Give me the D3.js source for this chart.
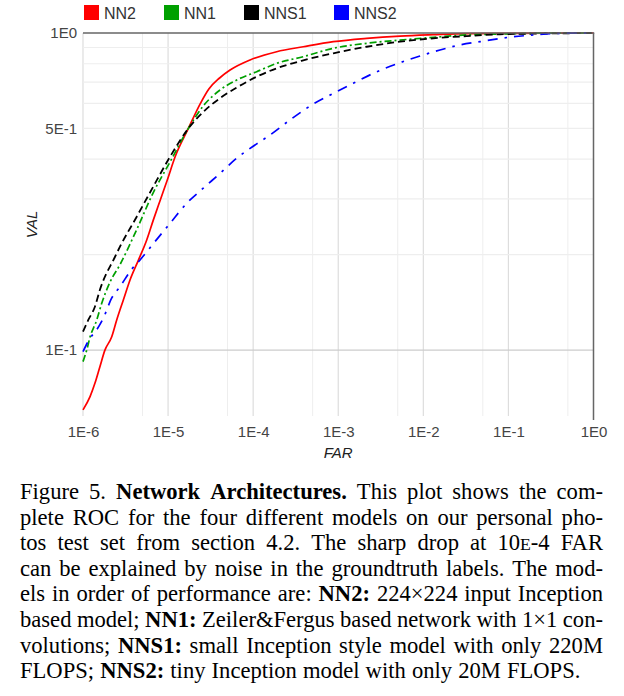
<!DOCTYPE html>
<html><head><meta charset="utf-8">
<script src="https://cdn.jsdelivr.net/npm/d3@7"></script>
<style>
body{margin:0;background:#fff;}
svg{position:absolute;left:0;top:0;}
</style></head><body>
<svg id="chart" width="624" height="696"></svg>
<script>
// ---------- data ----------
const seriesNames = ["NN2", "NN1", "NNS1", "NNS2"];
const xTickValues = [1e-6, 1e-5, 1e-4, 1e-3, 1e-2, 1e-1, 1];
const xTickLabels = ["1E-6", "1E-5", "1E-4", "1E-3", "1E-2", "1E-1", "1E0"];
const yTickValues = [0.1, 0.5, 1];
const yTickLabels = ["1E-1", "5E-1", "1E0"];

const nn2Far = [1e-6,1.21e-6,1.38e-6,1.58e-6,1.81e-6,2.17e-6,2.49e-6,2.98e-6,3.57e-6,4.47e-6,5.61e-6,6.7e-6,8.1e-6,9.79e-6,1.21e-5,1.73e-5,2.4e-5,3.0e-5,4.0e-5,5.35e-5,9.19e-5,1.89e-4,3.88e-4,8.75e-4,2.16e-3,5.32e-3,1.3e-2,3.24e-2,1];
const nn2Val = [0.0648,0.0714,0.0786,0.0887,0.100,0.110,0.1245,0.144,0.1665,0.192,0.2225,0.257,0.2975,0.344,0.407,0.50,0.600,0.665,0.720,0.764,0.822,0.873,0.905,0.939,0.962,0.978,0.988,0.996,1.0];

const nn1Far = [1e-6,1.105e-6,1.21e-6,1.45e-6,1.66e-6,2.08e-6,2.72e-6,4.28e-6,6.7e-6,1.054e-5,1.73e-5,2.59e-5,4.08e-5,6.41e-5,1.1e-4,1.89e-4,3.88e-4,8.75e-4,2.16e-3,5.32e-3,1.31e-2,3.24e-2,7.94e-2,0.195,1];
const nn1Val = [0.092,0.100,0.110,0.1245,0.1405,0.164,0.186,0.240,0.314,0.392,0.50,0.589,0.661,0.711,0.755,0.802,0.842,0.895,0.928,0.950,0.969,0.986,0.993,0.998,1.0];

const nns1Far = [1e-6,1.154e-6,1.38e-6,1.58e-6,2.38e-6,2.72e-6,4.28e-6,6.7e-6,1.054e-5,1.73e-5,2.59e-5,4.08e-5,6.41e-5,1.1e-4,1.89e-4,3.88e-4,8.75e-4,2.16e-3,5.32e-3,1.31e-2,3.24e-2,7.94e-2,0.195,1];
const nns1Val = [0.1144,0.1245,0.137,0.155,0.197,0.212,0.2635,0.328,0.407,0.50,0.564,0.623,0.673,0.728,0.774,0.820,0.863,0.905,0.939,0.962,0.978,0.991,0.995,1.0];

const nns2Far = [1e-6,1.21e-6,1.45e-6,1.73e-6,2.17e-6,2.72e-6,3.74e-6,4.68e-6,7.02e-6,1.054e-5,1.655e-5,2.59e-5,4.08e-5,6.41e-5,1.1e-4,1.58e-4,2.71e-4,4.88e-4,8.75e-4,1.5e-3,2.58e-3,5.32e-3,9.14e-3,1.57e-2,2.7e-2,4.64e-2,0.114,0.196,0.404,1];
const nns2Val = [0.099,0.109,0.116,0.126,0.1458,0.1585,0.180,0.1925,0.220,0.251,0.2905,0.324,0.361,0.403,0.447,0.477,0.532,0.593,0.645,0.694,0.746,0.806,0.846,0.884,0.917,0.939,0.973,0.9856,0.998,1.0];

const captionLines = [
  "Figure 5. **Network** **Architectures.** This plot shows the com-",
  "plete ROC for the four different models on our personal pho-",
  "tos test set from section 4.2. The sharp drop at 10^E^-4 FAR",
  "can be explained by noise in the groundtruth labels. The mod-",
  "els in order of performance are: **NN2:** 224×224 input Inception",
  "based model; **NN1:** Zeiler&Fergus based network with 1×1 con-",
  "volutions; **NNS1:** small Inception style model with only 220M",
  "FLOPS; **NNS2:** tiny Inception model with only 20M FLOPS."
];

// ---------- layout ----------
const L = 83, R = 593.5, T = 33, B = 416;
const svg = d3.select("#chart");
const x = d3.scaleLog().domain([1e-6, 1]).range([L, R]);
const y = d3.scaleLog().domain([0.062, 1]).range([B, T]);
const sans = "Arial, 'Liberation Sans', sans-serif";

const series = [
  {name: seriesNames[0], far: nn2Far, val: nn2Val, color: "#ff0000", dash: null, w: 1.7},
  {name: seriesNames[1], far: nn1Far, val: nn1Val, color: "#00a000", dash: "7,3,2,3", w: 1.7},
  {name: seriesNames[2], far: nns1Far, val: nns1Val, color: "#000000", dash: "7,4", w: 1.8},
  {name: seriesNames[3], far: nns2Far, val: nns2Val, color: "#0000ff", dash: "10,7,2.5,7", w: 1.7}
];

// grid
const grid = svg.append("g");
const minorX = [];
for (let e = -6; e < 0; e++) minorX.push(5 * Math.pow(10, e));
grid.selectAll(".mx").data(minorX).join("line")
  .attr("x1", d => x(d)).attr("x2", d => x(d)).attr("y1", T).attr("y2", B)
  .attr("stroke", "#eeeeee").attr("stroke-width", 1);
grid.selectAll(".Mx").data(xTickValues.slice(0, -1)).join("line")
  .attr("x1", d => x(d)).attr("x2", d => x(d)).attr("y1", T).attr("y2", B)
  .attr("stroke", "#dddddd").attr("stroke-width", 1.2);
const yGrid = [0.2, 0.3, 0.4, 0.5, 0.6, 0.7, 0.8, 0.9];
grid.selectAll(".gy").data(yGrid).join("line")
  .attr("x1", L).attr("x2", R).attr("y1", d => y(d)).attr("y2", d => y(d))
  .attr("stroke", "#eeeeee").attr("stroke-width", 1.2);
grid.append("line").attr("x1", L).attr("x2", R).attr("y1", y(0.1)).attr("y2", y(0.1))
  .attr("stroke", "#cccccc").attr("stroke-width", 1.2);

// axes (labels only)
const xAxis = svg.append("g").attr("transform", `translate(0,${B})`)
  .call(d3.axisBottom(x).tickValues(xTickValues).tickFormat((d, i) => xTickLabels[i]).tickSize(0));
xAxis.select(".domain").remove();
xAxis.selectAll("text").attr("y", 21).attr("dy", 0)
  .attr("font-family", sans).attr("font-size", 15).attr("fill", "#444");

const yAxis = svg.append("g").attr("transform", `translate(${L},0)`)
  .call(d3.axisLeft(y).tickValues(yTickValues).tickFormat((d, i) => yTickLabels[i]).tickSize(0).tickPadding(6));
yAxis.select(".domain").remove();
yAxis.selectAll("text").attr("font-family", sans).attr("font-size", 15).attr("fill", "#444");

// lines
const line = d3.line().x(d => x(d[0])).y(d => y(d[1])).curve(d3.curveMonotoneX);
series.forEach(s => {
  svg.append("path")
    .datum(s.far.map((f, i) => [f, s.val[i]]))
    .attr("d", line).attr("fill", "none")
    .attr("stroke", s.color).attr("stroke-width", s.w)
    .attr("stroke-dasharray", s.dash);
});

// baselines
svg.append("line").attr("x1", L).attr("x2", R + 0.75).attr("y1", y(1)).attr("y2", y(1))
  .attr("stroke", "#666").attr("stroke-width", 1.5);
svg.append("line").attr("x1", x(1)).attr("x2", x(1)).attr("y1", T).attr("y2", B + 4)
  .attr("stroke", "#666").attr("stroke-width", 1.5);

// axis titles
svg.append("text").attr("x", (L + R) / 2).attr("y", 458).attr("text-anchor", "middle")
  .attr("font-family", sans).attr("font-size", 15).attr("font-style", "italic").attr("fill", "#222").text("FAR");
svg.append("text").attr("transform", `translate(37,${(T + B) / 2}) rotate(-90)`).attr("text-anchor", "middle")
  .attr("font-family", sans).attr("font-size", 15).attr("font-style", "italic").attr("fill", "#222").text("VAL");

// legend
const legX = [84, 164, 244, 334];
const leg = svg.append("g");
series.forEach((s, i) => {
  leg.append("rect").attr("x", legX[i]).attr("y", 5).attr("width", 15).attr("height", 15).attr("fill", s.color);
  leg.append("text").attr("x", legX[i] + 20).attr("y", 18.5).attr("font-family", sans).attr("font-size", 16)
    .attr("fill", "#333").text(s.name);
});

// caption (justified)
const capL = 20, capR = 603, capY0 = 499, capDY = 25.6, capFS = 22.6;
const serif = "'Liberation Serif', 'Times New Roman', serif";
captionLines.forEach((ln, li) => {
  const words = ln.split(" ");
  const g = svg.append("g");
  const nodes = words.map(w => {
    const bold = w.startsWith("**");
    const t = g.append("text").attr("y", capY0 + li * capDY)
      .attr("font-family", serif).attr("font-size", capFS).attr("fill", "#000")
      .attr("font-weight", bold ? "bold" : "normal");
    const clean = w.replace(/\*\*/g, "");
    if (clean.includes("^")) {
      const parts = clean.split("^");
      t.append("tspan").text(parts[0]);
      t.append("tspan").attr("font-size", capFS * 0.78).text(parts[1]);
      t.append("tspan").attr("font-size", capFS).text(parts[2]);
    } else t.text(clean);
    return t;
  });
  const widths = nodes.map(n => n.node().getComputedTextLength());
  const total = d3.sum(widths);
  const last = li === captionLines.length - 1;
  const gap = last ? capFS * 0.27 : (capR - capL - total) / (words.length - 1);
  let cx = capL;
  nodes.forEach((n, i) => { n.attr("x", cx); cx += widths[i] + gap; });
});
</script>
</body></html>
